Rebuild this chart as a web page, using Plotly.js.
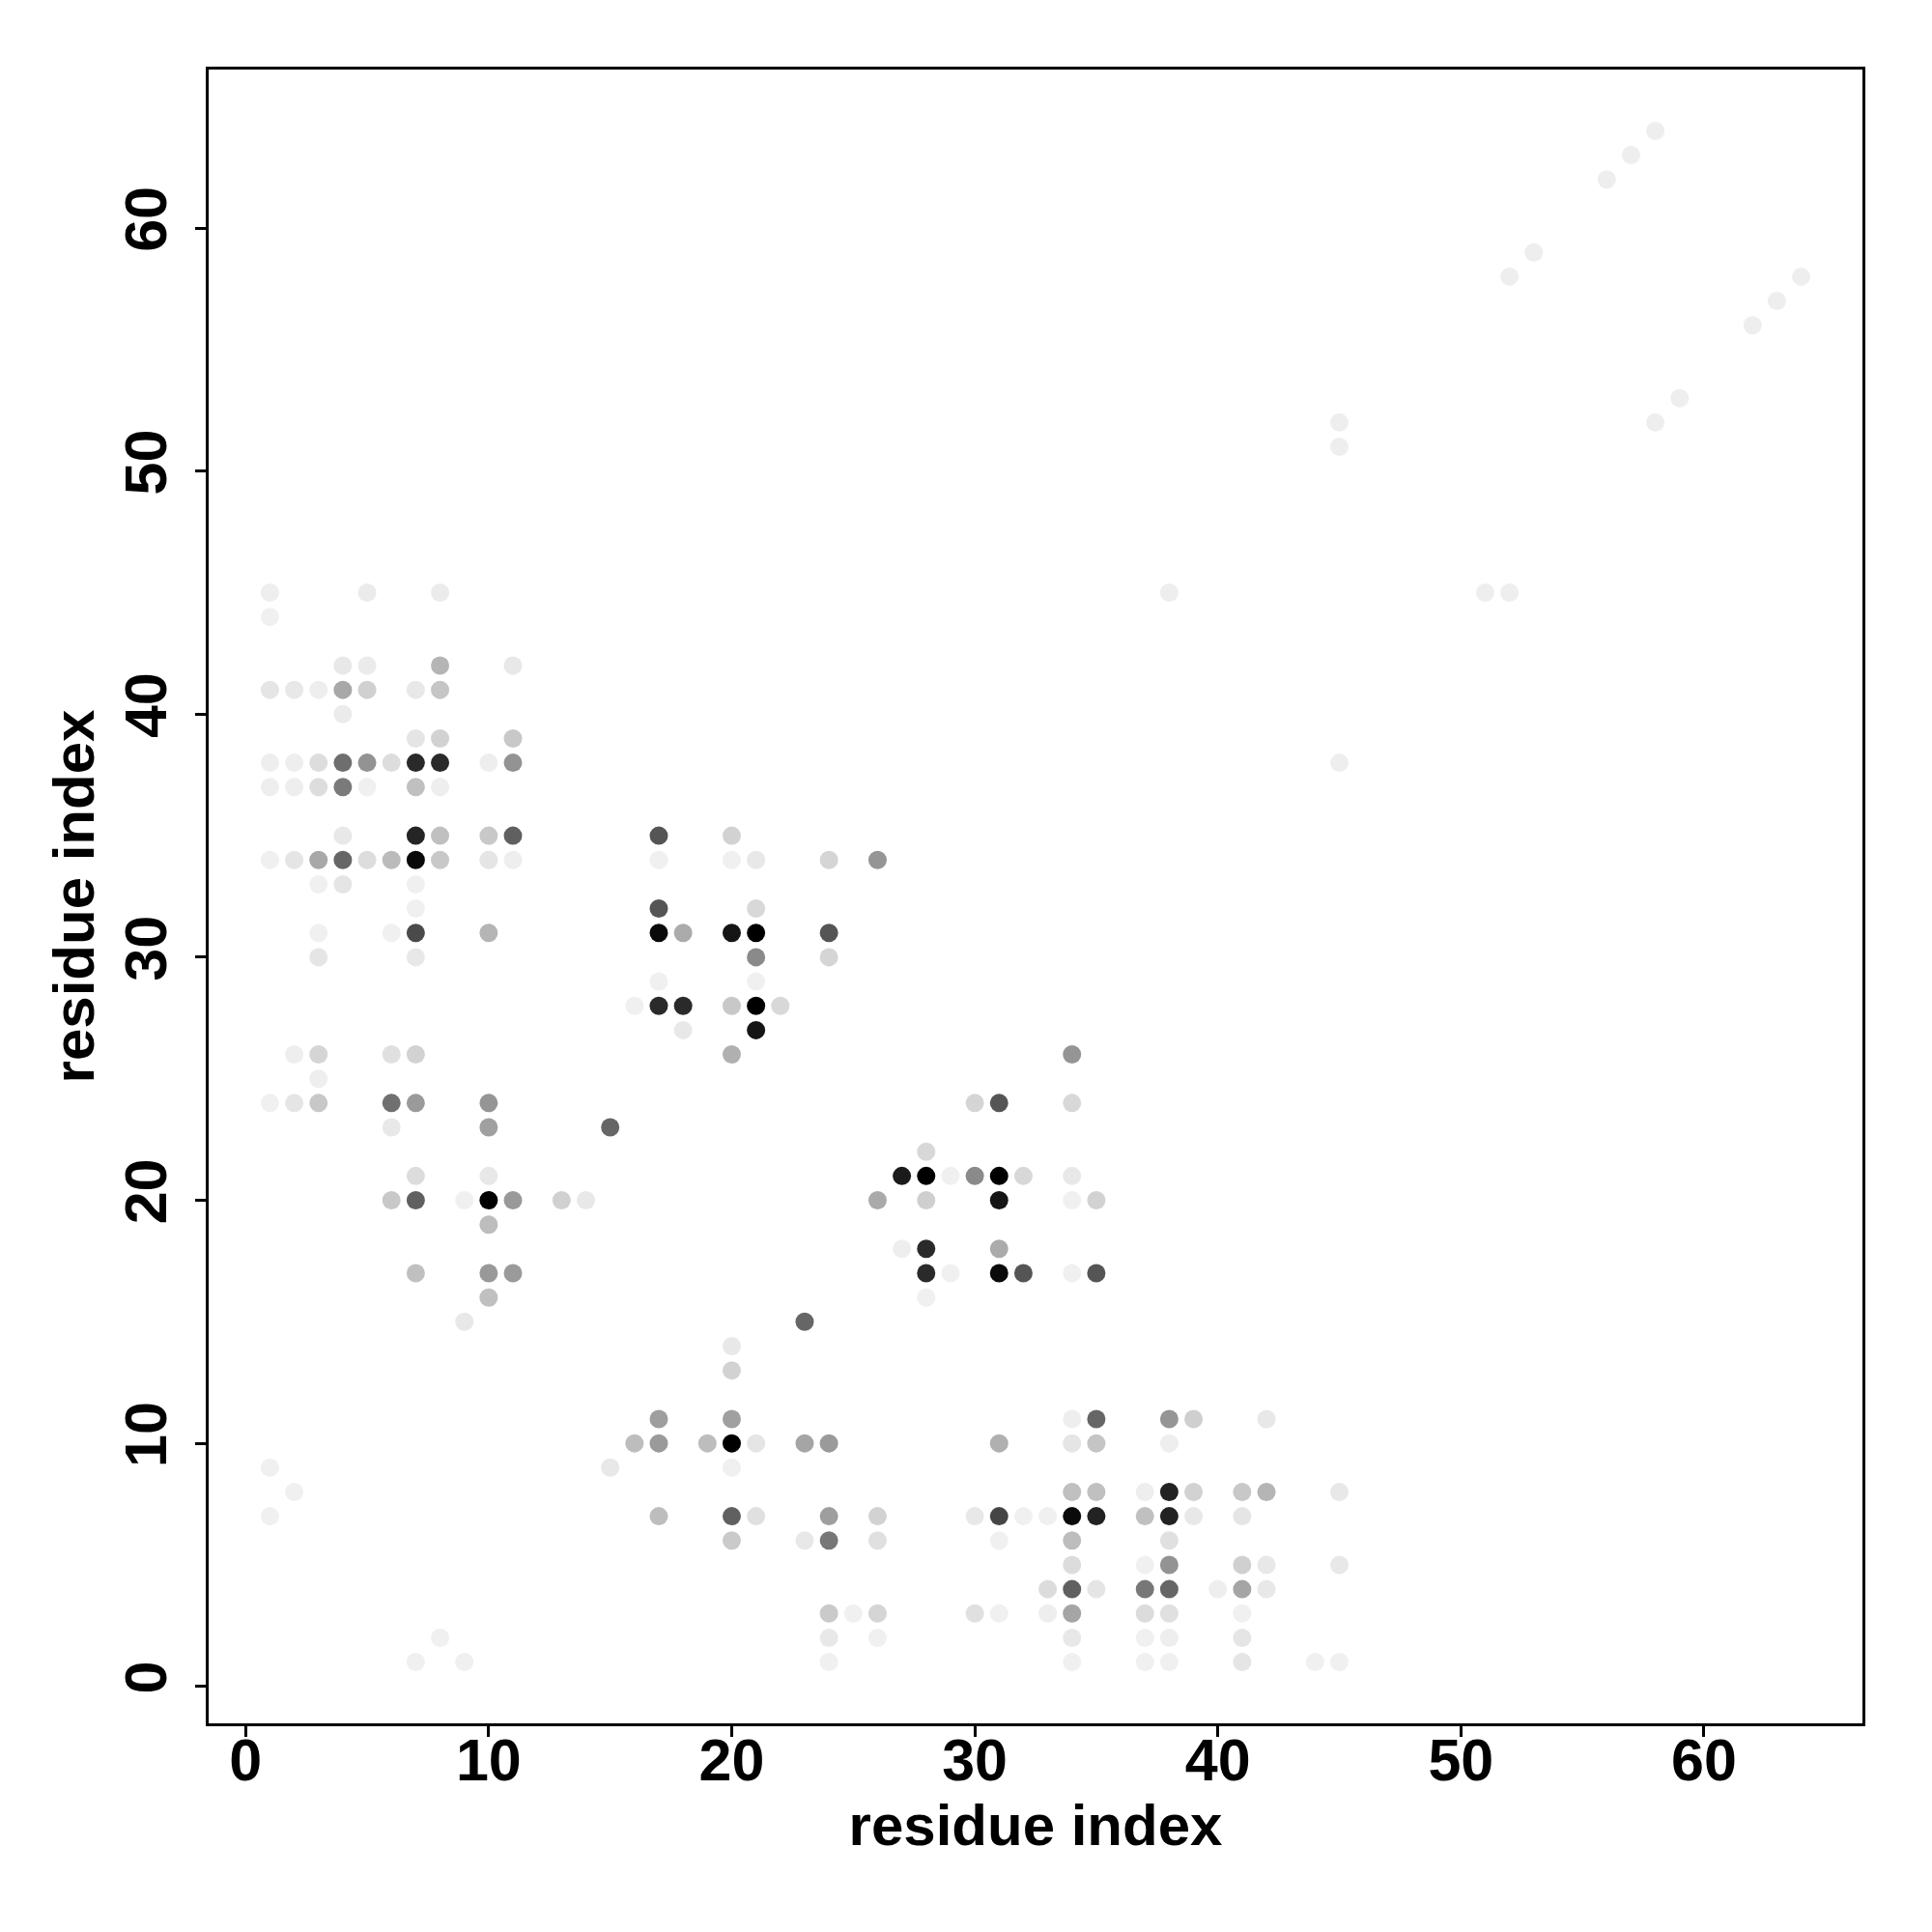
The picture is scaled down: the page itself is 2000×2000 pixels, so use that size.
<!DOCTYPE html>
<html>
<head>
<meta charset="utf-8">
<script src="https://cdn.plot.ly/plotly-3.0.1.min.js"></script>
<style>html,body{margin:0;padding:0;background:#fff;}#chart{width:2000px;height:2000px;}</style>
</head>
<body>
<div id="chart"></div>
<script>
// residue pairs (i, j) and grey shade of each contact (0 = black, 255 = white)
const resX = [
  1,5,8, 1, 4,5,8,11, 1,2,3,4,5,7,8, 4, 7,8,11,
  1,2,3,4,5,6,7,8,10,11, 1,2,3,4,5,7,8, 4,7,8,10,11,
  1,2,3,4,5,6,7,8,10,11, 3,4,7, 7, 3,6,7,10, 3,7,
  2,3,6,7, 3, 1,2,3,6,7,10, 6,10,15, 7,10, 6,7,9,10,11,13,14, 10, 7,10,11, 10, 9,
  17,20, 17,20,21,24,26, 17,21, 17,18,20,21,24, 21,24, 17,21, 16,17,18,20,21,22, 18,21, 20,
  34, 30,31,34, 28, 27,28,29,30,31,32,34, 26,28,31,34,35, 27,28,31, 28,29,31,32,34,35, 28,
  23, 20, 20, 17,20, 16,17,19,20,21,23,24,31, 15,20, 17,20,21,24,26,30,31,32,
  20,23,24,26,31, 24,25,26,30,31, 24,26, 24,
  34,35,38,39,42, 34,35,38, 34,35,37,38,39,41,42,45, 33,34,35,37,38,39,41, 34,38,
  34,37,38,41,42,45, 33,34,35,37,38,40,41,42, 33,34,37,38,41, 34,37,38,41, 34,37,38,41,44,45,
  1,2,1,8,7,9,
  58,57,56,53,52,64,63,62,59,58,45,45,38,51,52,45
];
const resY = [
  45,45,45, 44, 42,42,42,42, 41,41,41,41,41,41,41, 40, 39,39,39,
  38,38,38,38,38,38,38,38,38,38, 37,37,37,37,37,37,37, 35,35,35,35,35,
  34,34,34,34,34,34,34,34,34,34, 33,33,33, 32, 31,31,31,31, 30,30,
  26,26,26,26, 25, 24,24,24,24,24,24, 23,23,23, 21,21, 20,20,20,20,20,20,20, 19, 17,17,17, 16, 15,
  35,35, 34,34,34,34,34, 32,32, 31,31,31,31,31, 30,30, 29,29, 28,28,28,28,28,28, 27,27, 26,
  26, 24,24,24, 22, 21,21,21,21,21,21,21, 20,20,20,20,20, 18,18,18, 17,17,17,17,17,17, 16,
  15, 14, 13, 11,11, 10,10,10,10,10,10,10,10, 9,9, 7,7,7,7,7,7,7,7,
  6,6,6,6,6, 3,3,3,3,3, 2,2, 1,
  11,11,11,11,11, 10,10,10, 8,8,8,8,8,8,8,8, 7,7,7,7,7,7,7, 6,6,
  5,5,5,5,5,5, 4,4,4,4,4,4,4,4, 3,3,3,3,3, 2,2,2,2, 1,1,1,1,1,1,
  9,8,7,2,1,1,
  64,63,62,59,58,58,57,56,53,52,52,51,45,45,45,38
];
const shade = [
  238,235,235, 240, 232,235,181,232, 229,232,238,168,208,232,197, 235, 229,210,200,
  238,238,221,110,147,221,42,42,238,147, 238,238,221,122,240,192,238, 232,37,192,200,96,
  240,229,168,102,221,187,10,200,229,238, 240,229,240, 240, 240,240,74,181, 229,232,
  238,213,224,210, 238, 240,229,200,112,154,149, 232,160,102, 220,232, 200,96,240,0,153,208,232, 189, 192,153,154, 192, 232,
  85,210, 240,240,232,213,149, 85,216, 10,171,21,0,85, 138,213, 240,240, 240,42,42,200,0,216, 232,21, 176,
  149, 213,85,216, 216, 26,0,240,138,0,216,232, 170,207,21,240,210, 238,42,171, 42,240,10,85,240,85, 240,
  102, 232, 210, 158,160, 189,154,189,0,229,165,154,176, 232,240, 189,96,224,158,210,232,69,240,
  202,232,119,224,240, 202,240,213,224,240, 232,240, 240,
  238,102,149,207,232, 229,197,238, 192,192,238,34,210,200,181,232, 240,10,34,192,34,232,229, 189,224,
  220,240,147,208,232,232, 220,96,229,119,102,238,165,232, 238,165,220,224,240, 232,240,238,229, 240,240,240,229,240,240,
  240,240,240,240,240,240,
  238,238,238,238,238,238,238,238,238,238,238,238,238,238,238,238
];
const tickValues = [0, 10, 20, 30, 40, 50, 60];
const axisLabel = "residue index";

const fontFamily = "Liberation Sans, Arial, Helvetica, sans-serif";

const trace = {
  type: "scatter",
  mode: "markers",
  x: resX,
  y: resY,
  marker: {
    size: 19,
    color: shade,
    cmin: 0,
    cmax: 255,
    colorscale: [[0, "rgb(0,0,0)"], [1, "rgb(255,255,255)"]],
    showscale: false,
    line: {width: 0}
  },
  hoverinfo: "x+y"
};

const axisCommon = {
  range: [-1.52, 66.52],
  tickvals: tickValues,
  ticktext: tickValues.map(String),
  ticks: "outside",
  ticklen: 11,
  tickwidth: 3,
  tickcolor: "#000",
  showline: true,
  linewidth: 3,
  linecolor: "#000",
  mirror: true,
  showgrid: false,
  zeroline: false,
  tickfont: {family: fontFamily, size: 61, color: "#000", weight: "bold"},
  automargin: false
};

const layout = {
  width: 2000,
  height: 2000,
  margin: {l: 216, r: 72, t: 72, b: 216},
  paper_bgcolor: "#fff",
  plot_bgcolor: "#fff",
  showlegend: false,
  xaxis: Object.assign({}, axisCommon, {
    ticklabelstandoff: -28,
    title: {text: axisLabel, font: {family: fontFamily, size: 60, color: "#000", weight: "bold"}, standoff: 0}
  }),
  yaxis: Object.assign({}, axisCommon, {
    tickangle: -90,
    ticklabelstandoff: 6,
    title: {text: axisLabel, font: {family: fontFamily, size: 60, color: "#000", weight: "bold"}, standoff: 0}
  })
};

Plotly.newPlot("chart", [trace], layout, {displayModeBar: false, staticPlot: true});
</script>
</body>
</html>
